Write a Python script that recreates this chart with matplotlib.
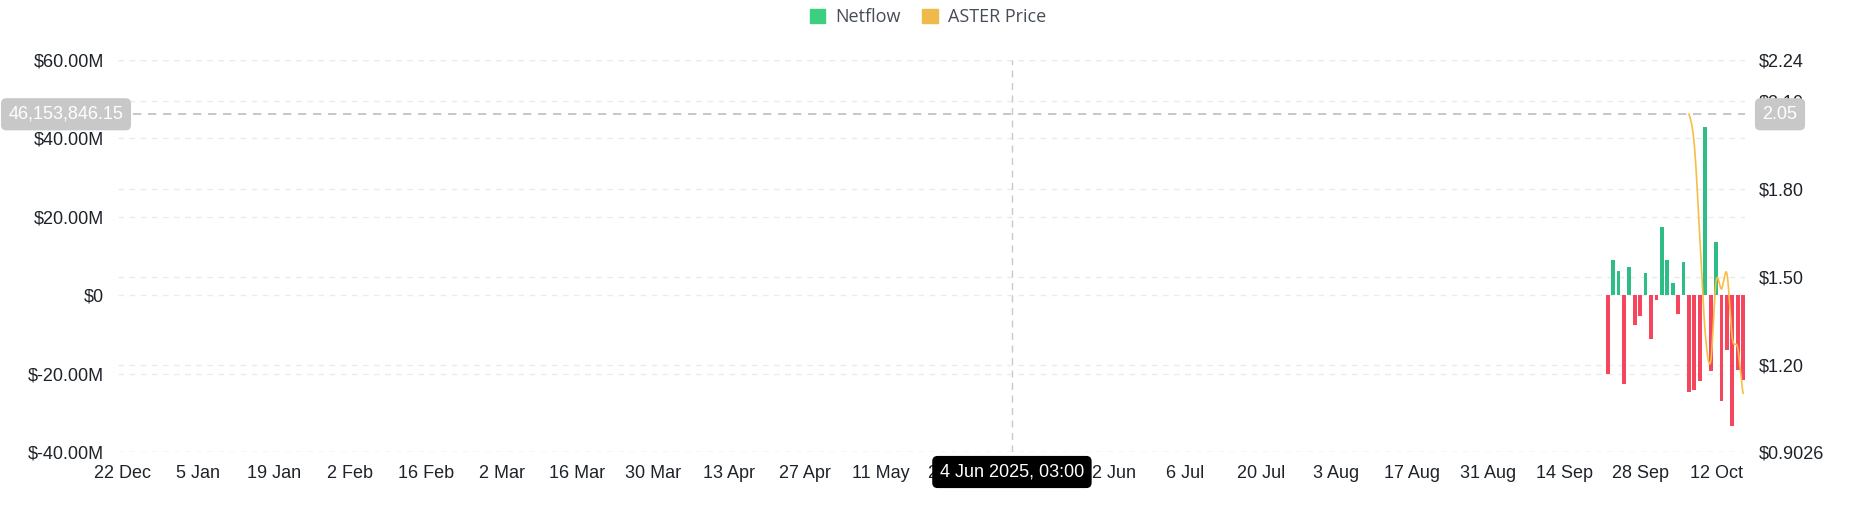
import numpy as np
import matplotlib.pyplot as plt
import matplotlib.dates as mdates
import matplotlib.transforms as mtrans
import pandas as pd
from matplotlib.patches import Patch
from matplotlib.lines import Line2D
from matplotlib.ticker import FuncFormatter, FixedLocator

# netflow, in millions of USD, one bar per day
flow_dates = pd.date_range('2025-09-22', '2025-10-17', freq='D')
netflow_m = [-20.1, 9.1, 6.1, -22.7, 7.2, -7.5, -5.4, 5.6, -11.3, -1.3,
             17.5, 8.9, 3.2, -4.7, 8.4, -24.8, -24.3, -21.8, 43.0, -19.3,
             13.6, -26.9, -13.9, -33.3, -19.0, -21.7]

# ASTER price, USD
price_dates = pd.date_range('2025-10-07', '2025-10-17', freq='D')
price = [2.055, 1.947, 1.639, 1.308, 1.211, 1.485, 1.459, 1.511, 1.291, 1.257, 1.103]

flow_ticks = [60, 40, 20, 0, -20, -40]
price_ticks = [2.24, 2.10, 1.80, 1.50, 1.20, 0.9026]
date_ticks = pd.date_range('2024-12-22', '2025-10-12', freq='14D')

cursor_date = pd.Timestamp('2025-06-04 03:00')
cursor_flow = 46153846.15
cursor_price = 2.05

GREEN = '#2ebd85'
RED = '#f6465d'
GOLD = '#f7be45'
GRID = '#e9ebee'
TICK_FONT = ['Liberation Sans', 'DejaVu Sans']
TICK_SIZE = 13


def smooth(x, y, n=24):
    # catmull-rom curve through the daily points, only for drawing
    x = np.asarray(x, float)
    y = np.asarray(y, float)
    px = np.concatenate([[2 * x[0] - x[1]], x, [2 * x[-1] - x[-2]]])
    py = np.concatenate([[y[0]], y, [y[-1]]])
    t = np.linspace(0, 1, n, endpoint=False)
    xs, ys = [], []
    for i in range(1, len(px) - 2):
        for p, out in ((px, xs), (py, ys)):
            p0, p1, p2, p3 = p[i - 1], p[i], p[i + 1], p[i + 2]
            out.append(0.5 * (2 * p1 + (-p0 + p2) * t
                              + (2 * p0 - 5 * p1 + 4 * p2 - p3) * t ** 2
                              + (-p0 + 3 * p1 - 3 * p2 + p3) * t ** 3))
    xs.append([x[-1]])
    ys.append([y[-1]])
    return np.concatenate(xs), np.concatenate(ys)


fig = plt.figure(figsize=(18.52, 5.25), dpi=100)
ax = fig.add_axes([118 / 1852, 1 - 452 / 525, (1745 - 118) / 1852, (452 - 60) / 525])
ax2 = ax.twinx()

ax.set_xlim(pd.Timestamp('2024-12-21 06:00'), pd.Timestamp('2025-10-17 08:00'))
ax.set_ylim(-40e6, 60e6)
ax2.set_ylim(0.9026, 2.24)

# gridlines for both axes, kept behind the bars
for v in flow_ticks:
    ax.axhline(v * 1e6, color=GRID, lw=1, dashes=(4, 4), zorder=0)
for p in price_ticks:
    ax.add_line(Line2D([0, 1], [p, p], transform=ax2.get_yaxis_transform(),
                       color=GRID, lw=1, dashes=(4, 4), zorder=0))

vals = np.array(netflow_m) * 1e6
colors = [GREEN if v >= 0 else RED for v in vals]
ax.bar(flow_dates, vals, width=0.7, color=colors, zorder=2)

sx, sy = smooth(mdates.date2num(price_dates), price)
ax2.plot(sx, sy, color=GOLD, lw=1.2, zorder=3)

# crosshair
ax.axvline(cursor_date, color='#c9c9c9', lw=1, dashes=(5, 4), zorder=1)
ax.axhline(cursor_flow, color='#bdbdbd', lw=1.2, dashes=(5, 4), zorder=1)

for a in (ax, ax2):
    for s in a.spines.values():
        s.set_visible(False)
    a.tick_params(length=0, labelsize=TICK_SIZE, labelcolor='#1e2329')

ax.yaxis.set_major_locator(FixedLocator([v * 1e6 for v in flow_ticks]))
ax.yaxis.set_major_formatter(FuncFormatter(
    lambda v, p: '$0' if v == 0 else '$%.2fM' % (v / 1e6)))
ax2.yaxis.set_major_locator(FixedLocator(price_ticks))
ax2.yaxis.set_major_formatter(FuncFormatter(
    lambda v, p: '$%.4f' % v if abs(v - 0.9026) < 1e-6 else '$%.2f' % v))
ax.xaxis.set_major_locator(FixedLocator(mdates.date2num(date_ticks)))
ax.xaxis.set_major_formatter(FuncFormatter(
    lambda v, p: '%d %s' % (mdates.num2date(v).day, mdates.num2date(v).strftime('%b'))))
ax.tick_params(axis='y', pad=10)
ax2.tick_params(axis='y', pad=10)
ax.tick_params(axis='x', pad=9)
for lab in ax.get_xticklabels() + ax.get_yticklabels() + ax2.get_yticklabels():
    lab.set_family(TICK_FONT)

# cursor labels
ty = mtrans.blended_transform_factory(fig.transFigure, ax.transData)
fig.text(66 / 1852, cursor_flow, '{:,.2f}'.format(cursor_flow), transform=ty,
         ha='center', va='center', color='white', fontsize=TICK_SIZE, family=TICK_FONT,
         bbox=dict(boxstyle='round,pad=0.42,rounding_size=0.3', fc='#c8c8c8', ec='none'))
fig.text(1780 / 1852, cursor_flow, '%.2f' % cursor_price, transform=ty,
         ha='center', va='center', color='white', fontsize=TICK_SIZE, family=TICK_FONT,
         bbox=dict(boxstyle='round,pad=0.42,rounding_size=0.3', fc='#c8c8c8', ec='none'))
tx = mtrans.blended_transform_factory(ax.transData, fig.transFigure)
fig.text(mdates.date2num(cursor_date), 1 - 472 / 525,
         '%d %s' % (cursor_date.day, cursor_date.strftime('%b %Y, %H:%M')),
         transform=tx, ha='center', va='center', color='white', fontsize=TICK_SIZE,
         family=TICK_FONT,
         bbox=dict(boxstyle='round,pad=0.42,rounding_size=0.3', fc='black', ec='none'))

handles = [Patch(color='#3ccf7f'), Patch(color='#eeba4c')]
fig.legend(handles, ['Netflow', 'ASTER Price'], loc='center',
           bbox_to_anchor=(928 / 1852, 1 - 17 / 525), ncol=2, frameon=False,
           handlelength=0.85, handleheight=0.85, handletextpad=0.55,
           columnspacing=1.2, prop={'family': ['Open Sans', 'DejaVu Sans'], 'size': 13},
           labelcolor='#474d57')

fig.savefig('out.png', dpi=100)
